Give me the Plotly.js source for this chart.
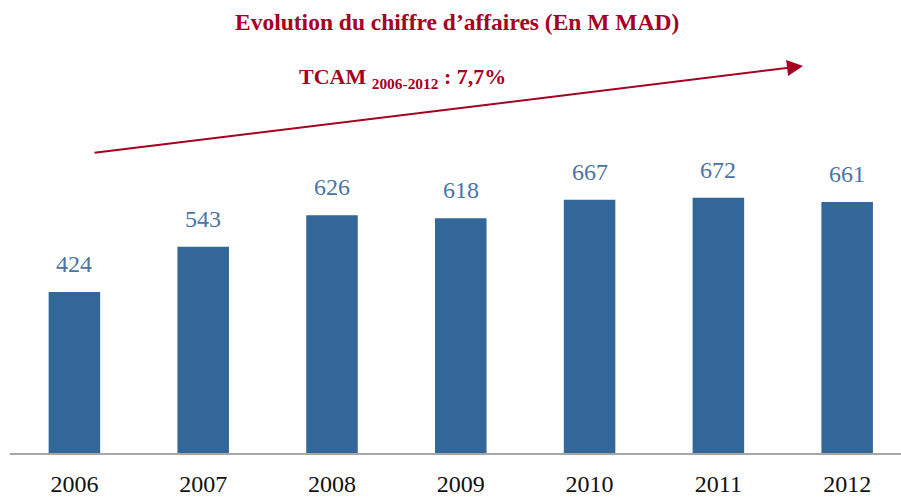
<!DOCTYPE html>
<html>
<head>
<meta charset="utf-8">
<script src="https://cdn.plot.ly/plotly-3.0.1.min.js"></script>
<style>html,body{margin:0;padding:0;background:#fff;}#chart{width:901px;height:497px;}</style>
</head>
<body>
<div id="chart"></div>
<script>
const years = ['2006','2007','2008','2009','2010','2011','2012'];
const revenue = [424, 543, 626, 618, 667, 672, 661];
const titleText = 'Evolution du chiffre d\u2019affaires (En M MAD)';
const cagrText = 'TCAM <sub>2006-2012</sub> : 7,7%';

const red = '#a50021';
const barColor = '#336699';
const labelColor = '#4a74a6';
const serif = 'Liberation Serif';

const valueLabels = years.map((y, i) => ({
  x: i, y: revenue[i], xref: 'x', yref: 'y',
  text: String(revenue[i]), showarrow: false,
  yanchor: 'bottom', yshift: 13,
  font: {family: serif, size: 24, color: labelColor}
}));

const layout = {
  width: 901, height: 497,
  margin: {l: 10, r: 0, t: 0, b: 44},
  paper_bgcolor: '#fff', plot_bgcolor: '#fff',
  showlegend: false,
  bargap: 0.6,
  font: {family: serif},
  xaxis: {
    type: 'category', range: [-0.5, 6.418],
    showline: true, linecolor: '#a6a6a6', linewidth: 2,
    showgrid: false, zeroline: false, ticks: '',
    ticklabelstandoff: 8,
    tickfont: {family: serif, size: 24, color: '#111'},
    fixedrange: true
  },
  yaxis: {
    range: [0, 1193], visible: false, showgrid: false, zeroline: false, fixedrange: true
  },
  annotations: [
    {
      xref: 'paper', yref: 'paper', x: (457 - 10) / 891, y: 1 - 22 / 453,
      text: '<b>' + titleText + '</b>', showarrow: false,
      xanchor: 'center', yanchor: 'middle',
      font: {family: serif, size: 23.5, color: red}
    },
    {
      xref: 'paper', yref: 'paper', x: (297 - 10) / 891, y: 1 - 78 / 453,
      text: '<b>' + cagrText + '</b>', showarrow: false,
      xanchor: 'left', yanchor: 'middle',
      font: {family: serif, size: 22, color: red}
    },
    {
      xref: 'paper', yref: 'paper', x: (803 - 10) / 891, y: 1 - 66 / 453,
      axref: 'pixel', ayref: 'pixel', ax: -710, ay: 87,
      text: '', showarrow: true, arrowhead: 2, arrowsize: 1.6, arrowwidth: 2,
      arrowcolor: red, standoff: 0
    }
  ].concat(valueLabels)
};

Plotly.newPlot('chart', [{
  type: 'bar', x: years, y: revenue,
  marker: {color: barColor, line: {width: 0}},
  hoverinfo: 'skip'
}], layout, {displayModeBar: false, staticPlot: true});
</script>
</body>
</html>
